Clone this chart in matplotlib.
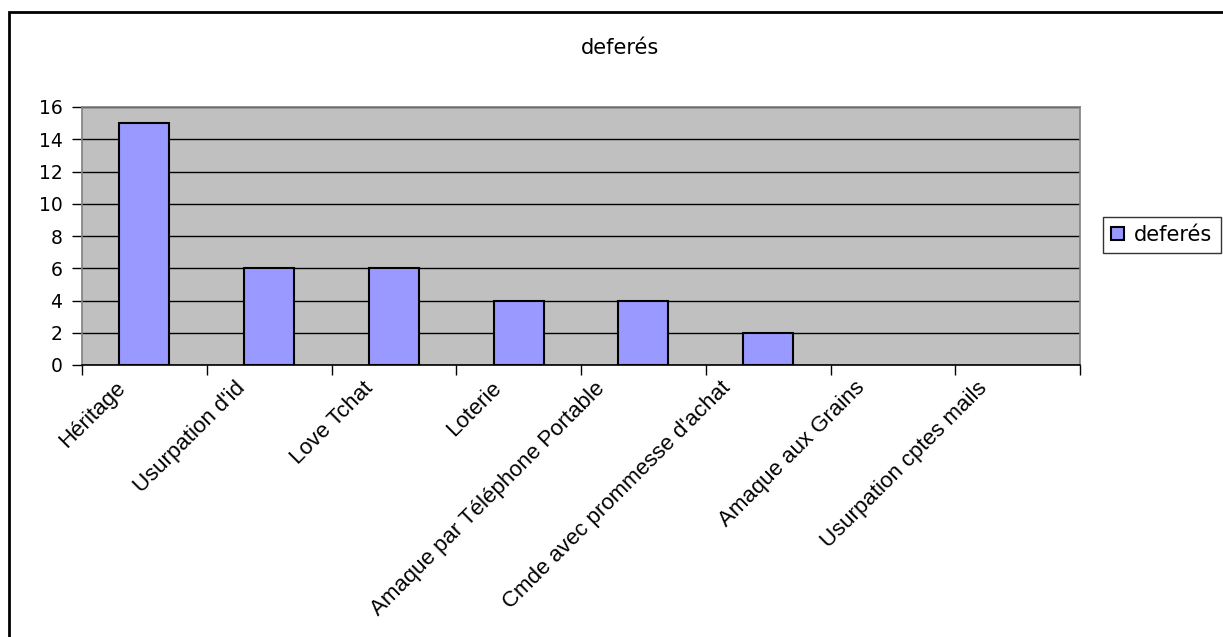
import numpy as np
import matplotlib.pyplot as plt
from matplotlib.patches import Rectangle
from matplotlib.transforms import ScaledTranslation

plt.rcParams['font.family'] = ['Liberation Sans', 'DejaVu Sans']

categories = ["Héritage", "Usurpation d'id", "Love Tchat", "Loterie",
              "Amaque par Téléphone Portable", "Cmde avec prommesse d'achat",
              "Amaque aux Grains", "Usurpation cptes mails"]
deferes = [15, 6, 6, 4, 4, 2, 0, 0]
yticks = [0, 2, 4, 6, 8, 10, 12, 14, 16]

W, H = 1223, 637
fig = plt.figure(figsize=(W / 100, H / 100), dpi=100)

# outer chart frame (only top and left edges are inside the image)
fig.patches.append(Rectangle((9 / W, -0.1), 1.2, 1 - 12 / H + 0.1,
                             transform=fig.transFigure, fill=False,
                             edgecolor='black', linewidth=2))

ax = fig.add_axes([82 / W, 1 - 365 / H, (1080 - 82) / W, (365 - 107) / H])
ax.set_facecolor('#C0C0C0')

x = np.arange(len(categories))
bars = ax.bar(x, deferes, width=0.4, color='#9999FF', edgecolor='black',
              linewidth=1.5, label='deferés', zorder=3)
for b, v in zip(bars, deferes):
    if v == 0:
        b.set_visible(False)

ax.set_xlim(-0.5, len(categories) - 0.5)
ax.set_ylim(0, 16)
ax.set_yticks(yticks)
ax.yaxis.grid(True, color='black', linewidth=1, zorder=1)
ax.set_axisbelow(True)

ax.set_xticks(x)
ax.set_xticklabels(categories, rotation=45, ha='right', va='top',
                   rotation_mode='anchor', fontsize=16)
ax.set_xticks(np.arange(len(categories) + 1) - 0.5, minor=True)
ax.tick_params(axis='x', which='major', length=0, pad=9)
ax.tick_params(axis='x', which='minor', length=7, width=1, color='black')
ax.tick_params(axis='y', length=7, width=1, color='black', pad=7)
for lbl in ax.get_yticklabels():
    lbl.set_fontfamily('DejaVu Sans')
    lbl.set_fontsize(13.5)

# longer slanted labels sit further left of their category
renderer = fig.canvas.get_renderer()
for lbl in ax.get_xticklabels():
    w = lbl.get_window_extent(renderer).width
    dx = -(20 + 0.12 * w)
    lbl.set_transform(lbl.get_transform()
                      + ScaledTranslation(dx / 100, 0, fig.dpi_scale_trans))

for side in ['top', 'right', 'left']:
    ax.spines[side].set_color('#808080')
ax.spines['bottom'].set_color('black')
for s in ax.spines.values():
    s.set_linewidth(1.2)

fig.text(620 / W, 1 - 48 / H, 'deferés', ha='center', va='center',
         fontsize=15, family='DejaVu Sans')

leg = ax.legend(loc='center left', bbox_to_anchor=(1103 / W, 1 - 235 / H),
                bbox_transform=fig.transFigure, frameon=True,
                prop={'family': 'DejaVu Sans', 'size': 15},
                fancybox=False, edgecolor='black', handlelength=0.6,
                handleheight=0.6, handletextpad=0.5, borderpad=0.4,
                borderaxespad=0)
leg.get_frame().set_linewidth(1)

fig.savefig('out.png', dpi=100)
